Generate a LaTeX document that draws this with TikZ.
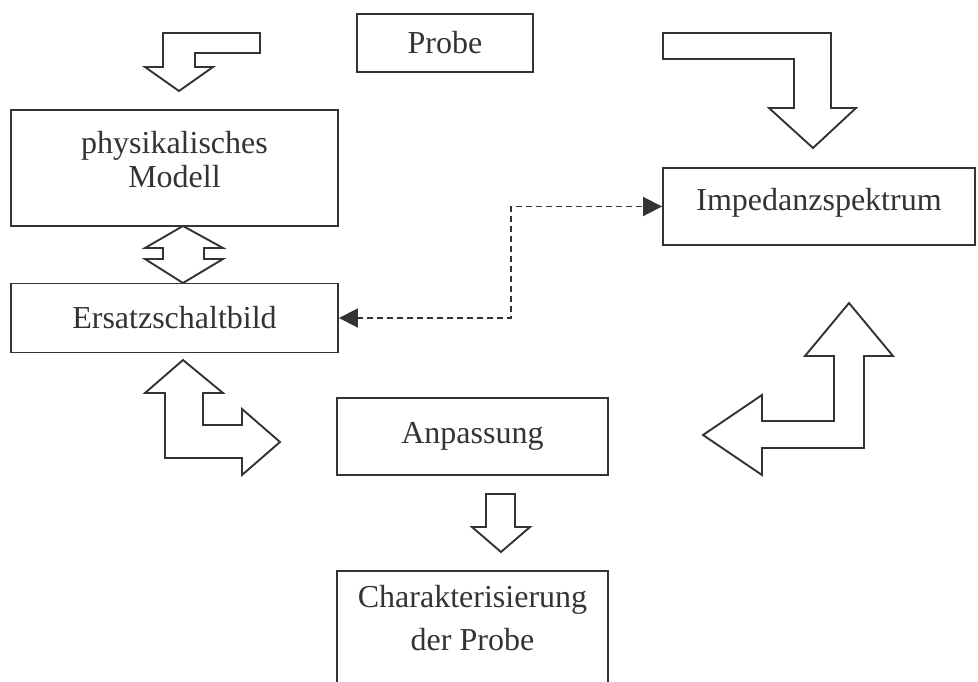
\documentclass[tikz,border=0pt]{standalone}
\usepackage{fontspec}
\setmainfont{Liberation Serif}
\usetikzlibrary{arrows.meta}

\begin{document}
\begin{tikzpicture}[x=1pt,y=-1pt,line width=1.9pt,draw=black!80,
    box/.style={draw=black!80,font=\fontsize{32}{34}\selectfont,text=black!80,align=center,inner sep=0pt},
    blockarrow/.style={draw=black!80,line join=miter,fill=white},
    dashconn/.style={draw=black!80,line width=1.9pt,dash pattern=on 6pt off 4pt,
        {Triangle[length=19pt,width=19pt]}-{Triangle[length=19pt,width=19pt]}}]
    \clip (0,0) rectangle (978,681);
    % boxes
    \draw (445,43) node[box,minimum width=176pt,minimum height=58pt] (probe) {Probe};
    \draw (174.5,168) node[box,minimum width=327pt,minimum height=116pt,text depth=18pt] (physik) {physikalisches\\Modell};
    \draw (819,206.5) node[box,minimum width=312pt,minimum height=77pt,text depth=15pt] (impedanz) {Impedanzspektrum};
    \draw (174.5,318) node[box,minimum width=327pt,minimum height=69pt] (ersatz) {Ersatzschaltbild};
    \draw (472.5,436.5) node[box,minimum width=271pt,minimum height=77pt] (anpassung) {Anpassung};
    \draw (472.5,570) node[box,anchor=north,minimum width=271pt,inner ysep=14pt,text depth=80pt] (charak) {Charakterisierung\\[9pt]der Probe};
    % dashed link
    \coordinate (knee) at (511,264);
    \draw[dashconn] (ersatz.east) -| (knee) |- (impedanz.west);
    % block arrows
    \draw[blockarrow] (260,33) -- (163,33) -- (163,67) -- (145,67) -- (179,91) -- (213,67) -- (195,67) -- (195,53) -- (260,53) -- cycle;
    \draw[blockarrow] (663,33) -- (831,33) -- (831,108) -- (856,108) -- (813,148) -- (769,108) -- (794,108) -- (794,59) -- (663,59) -- cycle;
    \draw[blockarrow] (183,226) -- (223,248) -- (204,248) -- (204,259) -- (223,259) -- (183,283) -- (145,259) -- (163,259) -- (163,248) -- (145,248) -- cycle;
    \draw[blockarrow] (183,360) -- (223,393) -- (203,393) -- (203,425) -- (242,425) -- (242,409) -- (280,442) -- (242,475) -- (242,458) -- (165,458) -- (165,393) -- (145,393) -- cycle;
    \draw[blockarrow] (849,303) -- (893,356) -- (864,356) -- (864,448) -- (762,448) -- (762,475) -- (703,435) -- (762,395) -- (762,421) -- (834,421) -- (834,356) -- (805,356) -- cycle;
    \draw[blockarrow] (486,494) -- (515,494) -- (515,527) -- (530,527) -- (501,552) -- (472,527) -- (486,527) -- cycle;
\end{tikzpicture}
\end{document}
